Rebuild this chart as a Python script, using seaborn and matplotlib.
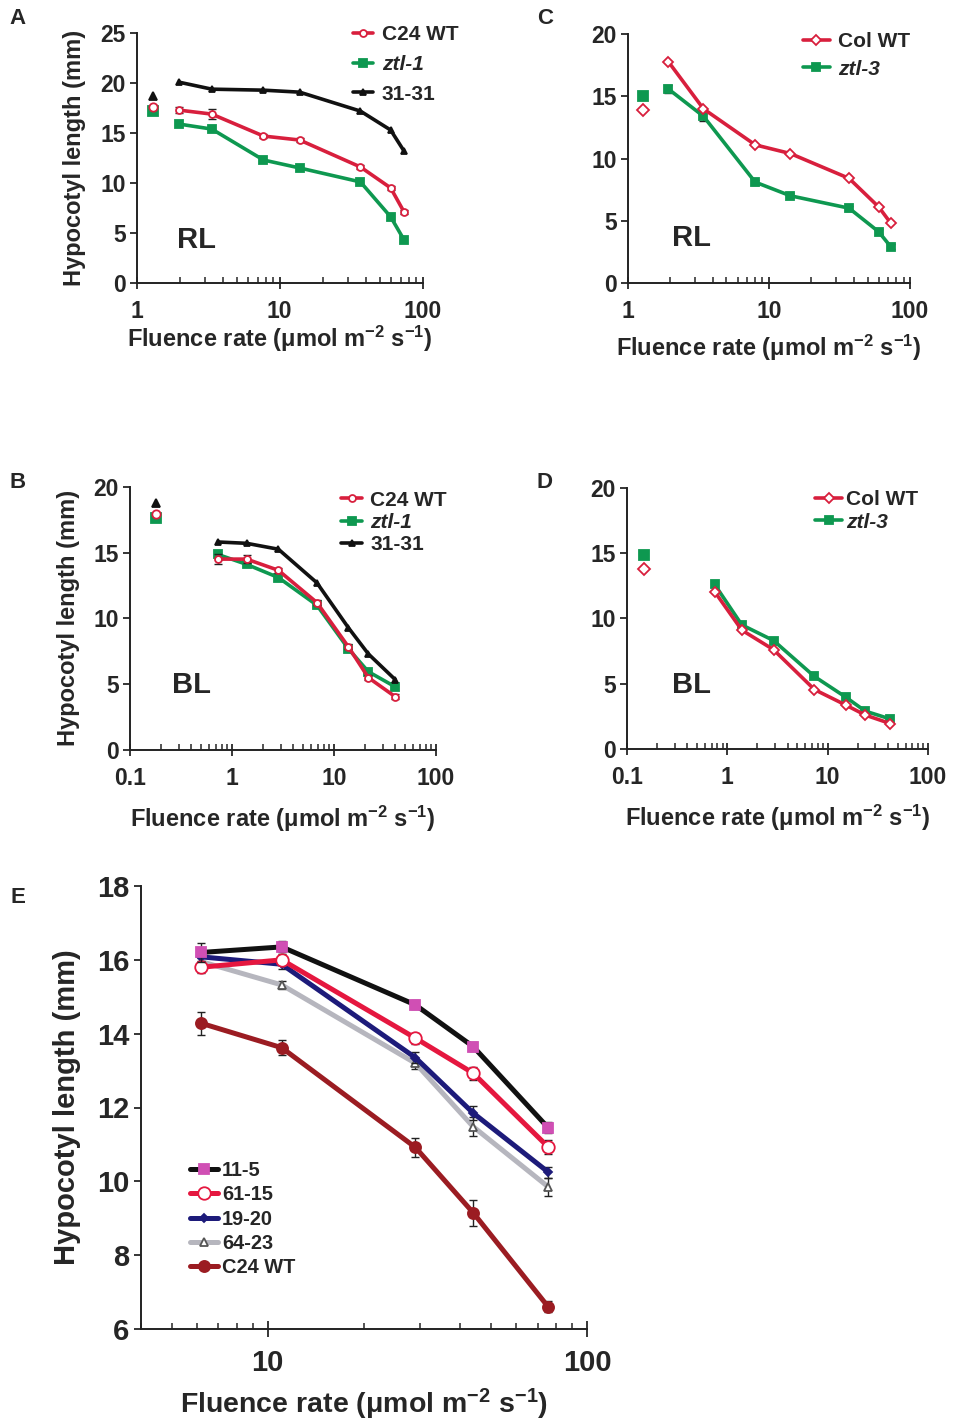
import matplotlib
matplotlib.use('Agg')
import matplotlib.pyplot as plt
import matplotlib.ticker as mticker
import seaborn as sns

# ---- data ----
# Panel A: red light, C24 background
rate_A = [1.98, 3.35, 7.7, 13.8, 36.7, 59.7, 74]
dark_A = 1.31
A_c24 = [17.3, 16.9, 14.7, 14.3, 11.6, 9.5, 7.1]
A_ztl1 = [15.9, 15.4, 12.3, 11.5, 10.1, 6.6, 4.3]
A_3131 = [20.1, 19.4, 19.3, 19.1, 17.2, 15.3, 13.2]
A_dark = {'C24 WT': 17.6, 'ztl-1': 17.2, '31-31': 18.7}
A_c24_err = [0.3, 0.5, 0.2, 0.2, 0.2, 0.2, 0.2]

# Panel C: red light, Col background
rate_C = [1.94, 3.44, 8.0, 14.2, 37, 60, 73]
dark_C = 1.29
C_col = [17.8, 14.0, 11.1, 10.4, 8.4, 6.1, 4.8]
C_ztl3 = [15.6, 13.4, 8.1, 7.0, 6.0, 4.1, 2.9]
C_dark = {'Col WT': 13.9, 'ztl-3': 15.0}
C_ztl3_err = [0.35, 0.4, 0.2, 0.2, 0.2, 0.2, 0.2]

# Panel B: blue light, C24 background
rate_B = [0.73, 1.39, 2.85, 6.8, 13.8, 21.7, 39.8]
dark_B = 0.18
B_c24 = [14.5, 14.5, 13.65, 11.2, 7.85, 5.5, 4.05]
B_ztl1 = [14.85, 14.1, 13.1, 11.0, 7.7, 5.95, 4.8]
B_3131 = [15.8, 15.7, 15.25, 12.7, 9.3, 7.3, 5.35]
B_dark = {'C24 WT': 17.95, 'ztl-1': 17.6, '31-31': 18.75}
B_c24_err = [0.4, 0.3, 0.2, 0.2, 0.2, 0.2, 0.2]

# Panel D: blue light, Col background
rate_D = [0.75, 1.4, 2.9, 7.4, 15.3, 23.7, 42]
dark_D = 0.147
D_col = [12.05, 9.1, 7.6, 4.55, 3.35, 2.6, 1.95]
D_ztl3 = [12.6, 9.5, 8.3, 5.55, 3.95, 2.9, 2.3]
D_dark = {'Col WT': 13.8, 'ztl-3': 14.85}

# Panel E: ZTL overexpressing lines
rate_E = [6.2, 11.06, 29.0, 44.0, 75.6]
E_115 = [16.2, 16.35, 14.78, 13.65, 11.45]
E_6115 = [15.8, 16.0, 13.88, 12.93, 10.93]
E_1920 = [16.08, 15.88, 13.35, 11.85, 10.25]
E_6423 = [15.95, 15.32, 13.2, 11.48, 9.85]
E_c24 = [14.28, 13.62, 10.92, 9.15, 6.6]
E_115_err = [0.25, 0.15, 0.12, 0.12, 0.15]
E_6115_err = [0.15, 0.15, 0.15, 0.18, 0.2]
E_1920_err = [0.1, 0.12, 0.15, 0.2, 0.15]
E_6423_err = [0.1, 0.12, 0.15, 0.25, 0.25]
E_c24_err = [0.32, 0.2, 0.25, 0.35, 0.15]

RED = '#d81f3d'
GREEN = '#0e9850'
BLACK = '#111111'

W, H = 960, 1421

sns.set_style('ticks')
plt.rcParams['font.family'] = ['Liberation Sans', 'DejaVu Sans']
plt.rcParams['font.weight'] = 'bold'
plt.rcParams['axes.labelweight'] = 'bold'
plt.rcParams['mathtext.fontset'] = 'custom'
plt.rcParams['mathtext.rm'] = 'Liberation Sans:bold'
plt.rcParams['mathtext.bf'] = 'Liberation Sans:bold'
plt.rcParams['mathtext.it'] = 'Liberation Sans:bold:italic'

XLABEL = r'Fluence rate ($\mathregular{\mu}$mol m$^{\mathbf{-2}}$ s$^{\mathbf{-1}}$)'


def px_axes(fig, left, right, bottom, top):
    return fig.add_axes([left / W, 1 - bottom / H, (right - left) / W, (bottom - top) / H])


def style_axes(ax, xlim, xticks, xticklabels, ylim, yticks, size, xpad=8):
    ax.set_xscale('log')
    ax.set_xlim(*xlim)
    ax.set_ylim(*ylim)
    ax.xaxis.set_major_locator(mticker.FixedLocator(xticks))
    ax.set_xticklabels(xticklabels)
    ax.xaxis.set_minor_locator(mticker.LogLocator(base=10, subs=range(2, 10)))
    ax.xaxis.set_minor_formatter(mticker.NullFormatter())
    ax.set_yticks(yticks)
    ax.set_yticklabels([str(v) for v in yticks])
    sns.despine(ax=ax)
    for s in ('left', 'bottom'):
        ax.spines[s].set_linewidth(1.4)
        ax.spines[s].set_color('#222222')
    ax.tick_params(axis='y', direction='out', length=5, width=1.3, labelsize=size, pad=3)
    ax.tick_params(axis='x', which='major', direction='inout', length=9, width=1.3,
                   labelsize=size, pad=xpad)
    ax.tick_params(axis='x', which='minor', direction='in', length=4, width=1.1)
    ax.set_facecolor('white')


def series(ax, x, y, color, marker, label, ms, mfc=None, lw=2.6, err=None, z=3,
           dark=None, mec=None):
    mfc = color if mfc is None else mfc
    mec = color if mec is None else mec
    if err is not None:
        ax.errorbar(x, y, yerr=err, fmt='none', ecolor='#222222', elinewidth=1,
                    capsize=3, capthick=1, zorder=z - 0.5)
    sns.lineplot(x=x, y=y, ax=ax, color=color, lw=lw, marker=marker, markersize=ms,
                 markerfacecolor=mfc, markeredgecolor=mec, markeredgewidth=1.3,
                 label=label, zorder=z, errorbar=None)
    if dark is not None:
        sns.lineplot(x=[dark[0]], y=[dark[1]], ax=ax, color=color, marker=marker,
                     markersize=ms + 1, markerfacecolor=mfc, markeredgecolor=mec,
                     markeredgewidth=1.3, linestyle='none', zorder=z, errorbar=None)


def legend(ax, order, anchor, size, spacing, hl=1.0, pad=0.4):
    h, l = ax.get_legend_handles_labels()
    idx = [l.index(k) for k in order]
    leg = ax.legend([h[i] for i in idx], [l[i] for i in idx], loc='upper left',
                    bbox_to_anchor=anchor, frameon=False, fontsize=size,
                    handlelength=hl, handletextpad=pad, labelspacing=spacing,
                    borderpad=0, borderaxespad=0)
    for t in leg.get_texts():
        if t.get_text().startswith('ztl'):
            t.set_style('italic')
    return leg


fig = plt.figure(figsize=(W / 100, H / 100), dpi=100)
fig.patch.set_facecolor('white')

TS = 16.5    # tick labels top panels
LS = 17      # axis labels top panels
GS = 15      # legend text top panels
PS = 21      # RL / BL

# ---------- A ----------
axA = px_axes(fig, 136.7, 422.7, 282.7, 33.3)
series(axA, rate_A, A_3131, BLACK, '^', '31-31', 5, dark=(dark_A, A_dark['31-31']), z=4)
series(axA, rate_A, A_c24, RED, 'o', 'C24 WT', 5, mfc='white', err=A_c24_err,
       dark=(dark_A, A_dark['C24 WT']), z=5)
series(axA, rate_A, A_ztl1, GREEN, 's', 'ztl-1', 6, dark=(dark_A, A_dark['ztl-1']), z=3)
style_axes(axA, (1, 100), [1, 10, 100], ['1', '10', '100'], (0, 25), [0, 5, 10, 15, 20, 25], TS)
legend(axA, ['C24 WT', 'ztl-1', '31-31'], (0.755, 1.033), GS, 0.52)
axA.text(0.14, 0.17, 'RL', transform=axA.transAxes, fontsize=PS, fontweight='bold',
         va='center', ha='left')
axA.set_xlabel(XLABEL, fontsize=LS, labelpad=0.5)
axA.set_ylabel('Hypocotyl length (mm)', fontsize=LS, labelpad=10)

# ---------- C ----------
axC = px_axes(fig, 627.7, 910, 282.7, 34.3)
series(axC, rate_C, C_col, RED, 'D', 'Col WT', 5, mfc='white', dark=(dark_C, C_dark['Col WT']), z=5)
series(axC, rate_C, C_ztl3, GREEN, 's', 'ztl-3', 6, err=C_ztl3_err, dark=(dark_C, C_dark['ztl-3']), z=4)
style_axes(axC, (1, 100), [1, 10, 100], ['1', '10', '100'], (0, 20), [0, 5, 10, 15, 20], TS)
legend(axC, ['Col WT', 'ztl-3'], (0.62, 1.01), GS, 0.43, hl=1.3)
axC.text(0.156, 0.18, 'RL', transform=axC.transAxes, fontsize=PS, fontweight='bold',
         va='center', ha='left')
axC.set_xlabel(XLABEL, fontsize=LS, labelpad=7)

# ---------- B ----------
axB = px_axes(fig, 130, 436, 750, 486.7)
series(axB, rate_B, B_3131, BLACK, '^', '31-31', 5, dark=(dark_B, B_dark['31-31']), z=4)
series(axB, rate_B, B_c24, RED, 'o', 'C24 WT', 5, mfc='white', err=B_c24_err,
       dark=(dark_B, B_dark['C24 WT']), z=5)
series(axB, rate_B, B_ztl1, GREEN, 's', 'ztl-1', 6, dark=(dark_B, B_dark['ztl-1']), z=3)
style_axes(axB, (0.1, 100), [0.1, 1, 10, 100], ['0.1', '1', '10', '100'], (0, 20),
           [0, 5, 10, 15, 20], TS)
legend(axB, ['C24 WT', 'ztl-1', '31-31'], (0.69, 0.985), GS, 0.16)
axB.text(0.136, 0.247, 'BL', transform=axB.transAxes, fontsize=PS, fontweight='bold',
         va='center', ha='left')
axB.set_xlabel(XLABEL, fontsize=LS, labelpad=9.5)
axB.set_ylabel('Hypocotyl length (mm)', fontsize=LS, labelpad=10)

# ---------- D ----------
axD = px_axes(fig, 626.7, 928, 749, 487.7)
series(axD, rate_D, D_col, RED, 'D', 'Col WT', 5, mfc='white', dark=(dark_D, D_dark['Col WT']), z=5)
series(axD, rate_D, D_ztl3, GREEN, 's', 'ztl-3', 6, dark=(dark_D, D_dark['ztl-3']), z=4)
style_axes(axD, (0.1, 100), [0.1, 1, 10, 100], ['0.1', '1', '10', '100'], (0, 20),
           [0, 5, 10, 15, 20], TS)
legend(axD, ['Col WT', 'ztl-3'], (0.625, 0.99), GS, 0.16, hl=1.3, pad=0.2)
axD.text(0.15, 0.245, 'BL', transform=axD.transAxes, fontsize=PS, fontweight='bold',
         va='center', ha='left')
axD.set_xlabel(XLABEL, fontsize=LS, labelpad=10)

# ---------- E ----------
axE = px_axes(fig, 140.7, 587, 1329, 886)
series(axE, rate_E, E_c24, '#9b1c22', 'o', 'C24 WT', 8, lw=3.6, err=E_c24_err, z=3)
series(axE, rate_E, E_6423, '#b6b6be', '^', '64-23', 6, mfc='white', mec='#555555',
       lw=3.6, err=E_6423_err, z=4)
series(axE, rate_E, E_1920, '#1d1b7a', 'D', '19-20', 4, lw=3.6, err=E_1920_err, z=5)
series(axE, rate_E, E_6115, '#e5173f', 'o', '61-15', 9, mfc='white', lw=3.6,
       err=E_6115_err, z=6)
series(axE, rate_E, E_115, BLACK, 's', '11-5', 7, mfc='#d04fb4', mec='#d04fb4', lw=3.6,
       err=E_115_err, z=7)
style_axes(axE, (4, 100), [10, 100], ['10', '100'], (6, 18), [6, 8, 10, 12, 14, 16, 18], 21,
           xpad=9)
axE.tick_params(axis='x', which='major', length=11)
legend(axE, ['11-5', '61-15', '19-20', '64-23', 'C24 WT'], (0.11, 0.379), 14.4, 0.26,
       hl=1.4, pad=0.2)
axE.set_xlabel(XLABEL, fontsize=20.5, labelpad=7)
axE.set_ylabel('Hypocotyl length (mm)', fontsize=21, labelpad=12)

# ---------- panel letters ----------
for letter, x, y in [('A', 18, 18), ('C', 545, 18), ('B', 18, 483), ('D', 545, 483),
                     ('E', 18, 897)]:
    fig.text(x / W, 1 - y / H, letter, fontsize=16, fontweight='bold', ha='center',
             va='center')

fig.savefig('out.png', dpi=100, facecolor='white')
